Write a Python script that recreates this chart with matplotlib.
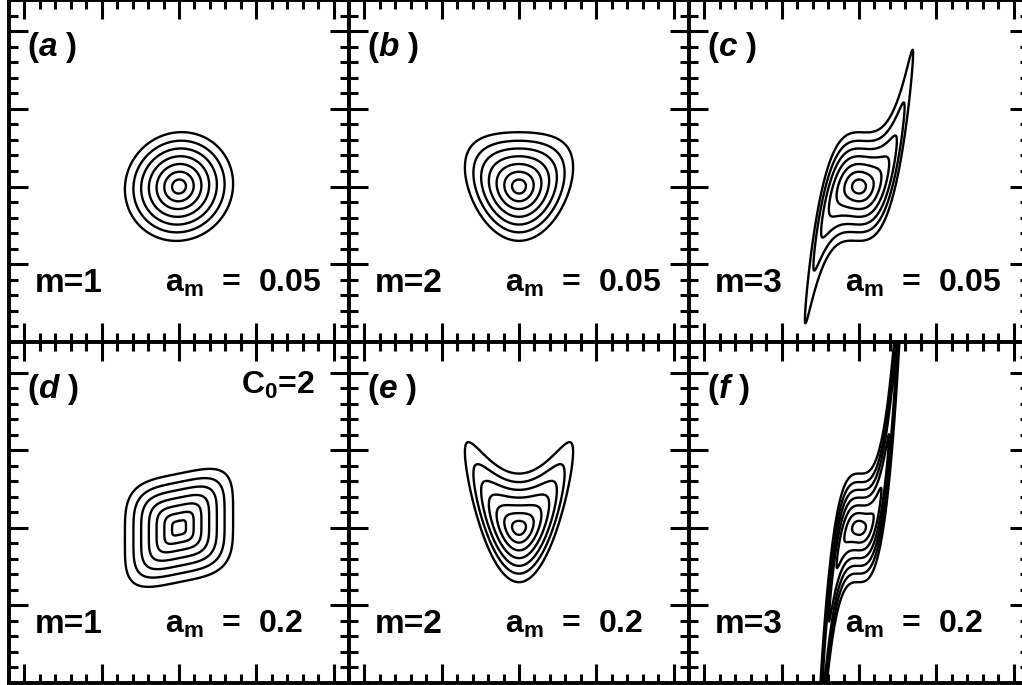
import numpy as np
import matplotlib
matplotlib.use('Agg')
import matplotlib.pyplot as plt
from matplotlib.ticker import MultipleLocator

plt.rcParams['font.family'] = ['Liberation Sans', 'DejaVu Sans']
plt.rcParams['mathtext.fontset'] = 'custom'
plt.rcParams['mathtext.rm'] = 'Liberation Sans:bold'
plt.rcParams['mathtext.it'] = 'Liberation Sans:italic:bold'
plt.rcParams['mathtext.bf'] = 'Liberation Sans:bold'

# panel data
panel_tags = ['a', 'b', 'c', 'd', 'e', 'f']
m_values = [1, 2, 3, 1, 2, 3]
a_labels = ['0.05', '0.05', '0.05', '0.2', '0.2', '0.2']
# coefficient of the x^m bend of the contours, and the norm power (C0 = 2 -> 4)
bend = [0.05, 0.5, 5.0, 0.2, 2.0, 20.0]
norm_power = [2, 2, 2, 4, 2, 2]
levels = [0.09, 0.19, 0.29, 0.39, 0.49, 0.59, 0.70]

x_lim = (-2.2, 2.2)
y_lim = (-2.0, 2.4)

xg = np.linspace(x_lim[0], x_lim[1], 1401)
yg = np.linspace(y_lim[0], y_lim[1], 1401)
X, Y = np.meshgrid(xg, yg)

fig = plt.figure(figsize=(10.22, 6.85), dpi=100)

for i in range(6):
    row, col = divmod(i, 3)
    left = (9 + 340 * col) / 1022
    bottom = 0.5012 if row == 0 else 0.0029
    ax = fig.add_axes([left, bottom, 340 / 1022, 0.4983])

    p = norm_power[i]
    F = (np.abs(X) ** p + np.abs(Y - bend[i] * X ** m_values[i]) ** p) ** (1.0 / p)
    ax.contour(X, Y, F, levels=levels, colors='black', linewidths=1.7)

    ax.set_xlim(*x_lim)
    ax.set_ylim(*y_lim)
    ax.xaxis.set_major_locator(MultipleLocator(1))
    ax.xaxis.set_minor_locator(MultipleLocator(0.2))
    ax.yaxis.set_major_locator(MultipleLocator(1))
    ax.yaxis.set_minor_locator(MultipleLocator(0.2))
    ax.tick_params(which='both', direction='in', top=True, right=True,
                   labelbottom=False, labelleft=False, width=2.2)
    ax.tick_params(which='major', length=13.5)
    ax.tick_params(which='minor', length=6.8)
    for s in ax.spines.values():
        s.set_linewidth(2.8)

    ax.text(0.053, 0.836, r'($\mathit{%s}$ )' % panel_tags[i], transform=ax.transAxes,
            fontsize=24, fontweight='bold', va='baseline', ha='left')
    ax.text(0.076, 0.147, 'm=%d' % m_values[i], transform=ax.transAxes,
            fontsize=24, fontweight='bold', va='baseline', ha='left')
    ax.text(0.459, 0.147, r'a$_\mathbf{m}$  =  ' + a_labels[i], transform=ax.transAxes,
            fontsize=23, fontweight='bold', va='baseline', ha='left')
    if i == 3:
        ax.text(0.9, 0.847, r'C$_\mathbf{0}$=2', transform=ax.transAxes,
                fontsize=23, fontweight='bold', va='baseline', ha='right')

fig.savefig('out.png', dpi=100)
